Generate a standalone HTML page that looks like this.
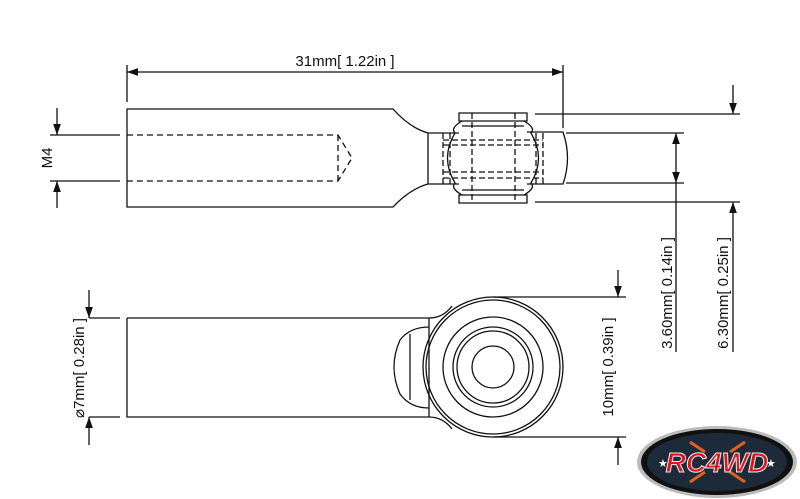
<!DOCTYPE html>
<html><head><meta charset="utf-8"><style>
html,body{margin:0;padding:0;background:#fff;}
svg{display:block;}
text{font-family:"Liberation Sans",sans-serif;font-size:15px;fill:#111;}
</style></head><body>
<svg width="800" height="499" viewBox="0 0 800 499" xmlns="http://www.w3.org/2000/svg">
<defs>
<marker id="a" viewBox="0 0 10 10" refX="10" refY="5" markerWidth="11" markerHeight="11" markerUnits="userSpaceOnUse" orient="auto"><path d="M0,1.5 L10,5 L0,8.5z" fill="#111"/></marker>
</defs>
<g stroke="#111" stroke-width="1.3" fill="none">
<!-- top view body -->
<path d="M127,109 L393,109 Q410,128 428,133 L428,184 Q410,189 393,207 L127,207 Z"/>
<path d="M127,135 L338,135 L352,158 L338,181 L127,181 M338,135 L338,181" stroke-dasharray="6,4"/>
<!-- housing -->
<path d="M428,133 L459,133 M428,184 L459,184 M527,132 L563,132 Q572,158 563,184 L527,184"/>
<path d="M459,113 L527,113 L527,121 L459,121 Z M459,195 L527,195 L527,203 L459,203 Z"/>
<path d="M462,121 Q450,128 455,133 Q440,158 455,183 Q450,188 462,195 M524,121 Q536,128 531,133 Q546,158 531,183 Q536,188 524,195"/>
<path d="M443,133 L443,184 M450,133 L450,184 M472,113 L472,203 M515,113 L515,203 M536,133 L536,184 M543,133 L543,184 M443,140 L543,140 M443,145 L543,145 M443,172 L543,172 M443,178 L543,178" stroke-dasharray="6,3"/>
<path d="M462,126 L524,126 M462,190 L524,190"/>
<!-- 31mm -->
<path d="M127,65 L127,102 M563,65 L563,128"/>
<path d="M345,72 L127,72" marker-end="url(#a)"/><path d="M345,72 L563,72" marker-end="url(#a)"/>
<!-- M4 -->
<path d="M50,135 L120,135 M50,181 L120,181"/>
<path d="M57,108 L57,135" marker-end="url(#a)"/><path d="M57,208 L57,181" marker-end="url(#a)"/>
<!-- 3.60 -->
<path d="M566,133 L684,133 M566,183 L684,183"/>
<path d="M676,158 L676,133" marker-end="url(#a)"/><path d="M676,158 L676,183" marker-end="url(#a)"/><path d="M676,183 L676,352"/>
<!-- 6.30 -->
<path d="M535,114 L740,114 M535,202 L740,202"/>
<path d="M733,85 L733,114" marker-end="url(#a)"/><path d="M733,352 L733,202" marker-end="url(#a)"/>
<!-- bottom view -->
<path d="M127,318 L429,318 Q443,318 452,306 M127,318 L127,417 L429,417 Q443,417 452,429"/>
<circle cx="493" cy="367" r="70"/>
<circle cx="493" cy="367" r="67"/>
<circle cx="493" cy="367" r="50"/>
<circle cx="493" cy="367" r="40"/>
<circle cx="493" cy="367" r="36"/>
<circle cx="493" cy="367" r="21"/>
<path d="M429,318 L429,417 M410,334 L410,400 M429,327 Q410,327 400,340 Q388,367 400,394 Q410,408 429,408"/>
<!-- 10mm -->
<path d="M493,297 L626,297 M493,437 L626,437"/>
<path d="M618,270 L618,297" marker-end="url(#a)"/><path d="M618,465 L618,437" marker-end="url(#a)"/>
<!-- 7mm -->
<path d="M89,318 L120,318 M89,417 L120,417"/>
<path d="M89,290 L89,318" marker-end="url(#a)"/><path d="M89,445 L89,417" marker-end="url(#a)"/>
</g>
<text x="345" y="66" text-anchor="middle">31mm[ 1.22in ]</text>
<text transform="translate(52,158) rotate(-90)" text-anchor="middle">M4</text>
<text transform="translate(672,293) rotate(-90)" text-anchor="middle">3.60mm[ 0.14in ]</text>
<text transform="translate(728,293) rotate(-90)" text-anchor="middle">6.30mm[ 0.25in ]</text>
<text transform="translate(613,367) rotate(-90)" text-anchor="middle">10mm[ 0.39in ]</text>
<text transform="translate(84,368) rotate(-90)" text-anchor="middle">⌀7mm[ 0.28in ]</text>
<!-- logo -->
<ellipse cx="717" cy="462" rx="80" ry="36" fill="#bbb"/>
<ellipse cx="717" cy="462" rx="76" ry="33" fill="#111"/>
<ellipse cx="717" cy="462" rx="70" ry="29" fill="#1d2a3a"/>
<path d="M690,442 L705,452 M745,442 L730,452 M690,482 L705,472 M745,482 L730,472" stroke="#e06020" stroke-width="3"/>
<text x="717" y="472" text-anchor="middle" style="font-size:28px;font-weight:bold;font-style:italic;fill:#d8141c;stroke:#eee;stroke-width:1">RC4WD</text>
<text x="658" y="467" style="font-size:11px;fill:#fff">★</text>
<text x="766" y="467" style="font-size:11px;fill:#fff">★</text>
</svg>
</body></html>
